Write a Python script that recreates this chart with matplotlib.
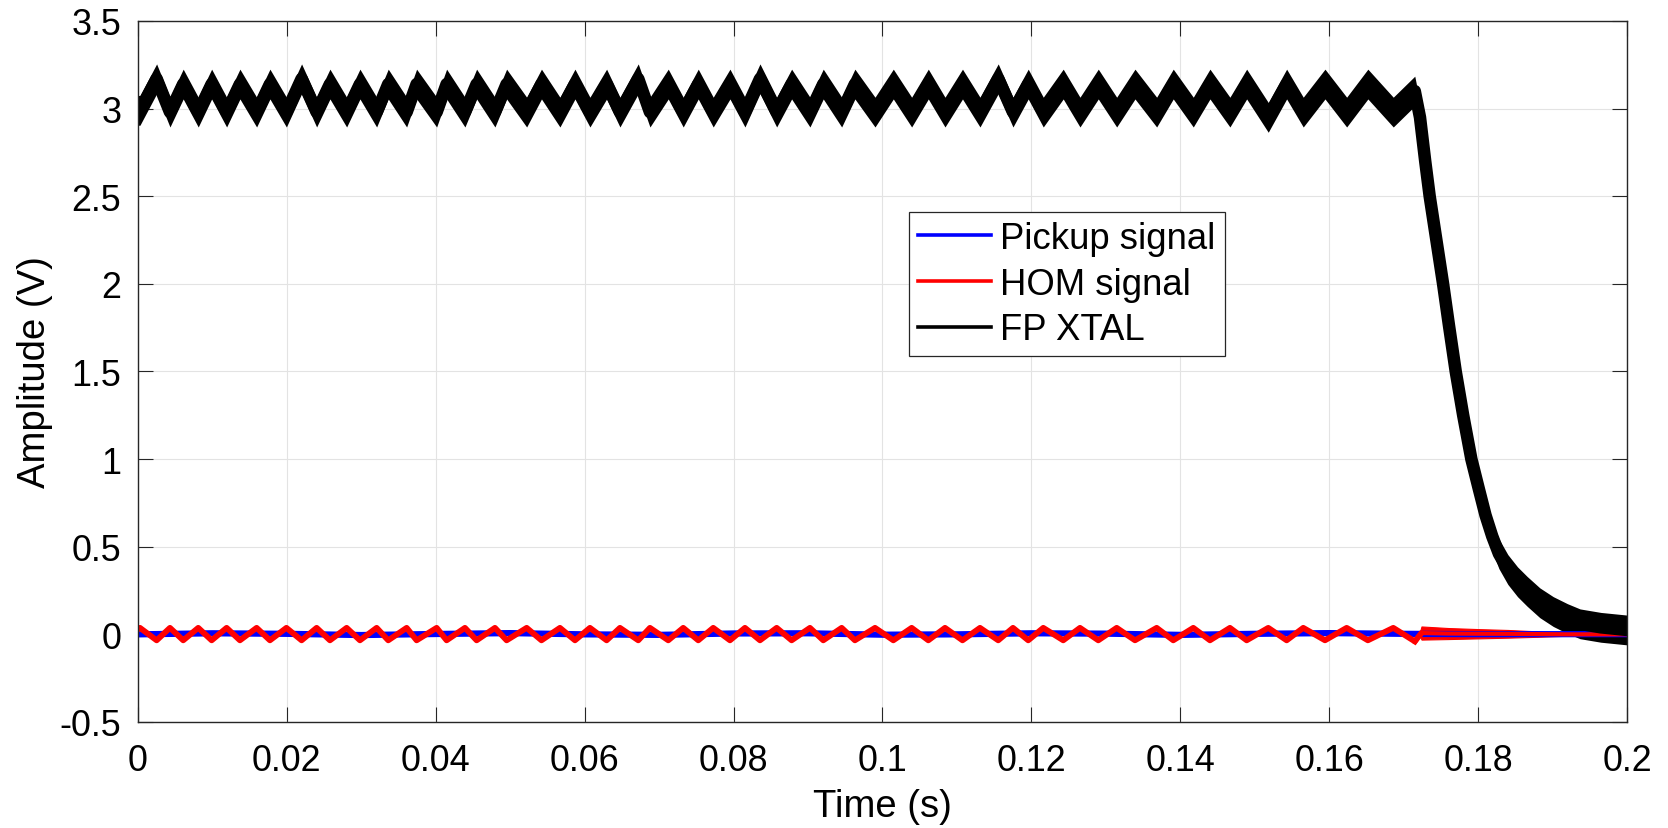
import numpy as np
import matplotlib
matplotlib.use("Agg")
import matplotlib.pyplot as plt
from matplotlib.lines import Line2D

plt.rcParams['font.family'] = ['Liberation Sans', 'DejaVu Sans']

# ---- data ----
# times (s) of the HOM crests = FP XTAL dips
t_crest = [0.00027, 0.00430, 0.00810, 0.01191, 0.01594, 0.01994, 0.02400, 0.02803,
           0.03206, 0.03609, 0.04012, 0.04392, 0.04795, 0.05221, 0.05668, 0.06071,
           0.06474, 0.06877, 0.07324, 0.07727, 0.08153, 0.08579, 0.09026, 0.09452,
           0.09900, 0.10392, 0.10840, 0.11310, 0.11753, 0.12160, 0.12653, 0.13146,
           0.13683, 0.14175, 0.14667, 0.15182, 0.15652, 0.16235, 0.16861]
# times (s) of the HOM dips = FP XTAL crests
t_dip = [0.00251, 0.00608, 0.00990, 0.01370, 0.01773, 0.02198, 0.02579, 0.02982,
         0.03362, 0.03743, 0.04146, 0.04549, 0.04952, 0.05420, 0.05870, 0.06295,
         0.06720, 0.07123, 0.07526, 0.07952, 0.08355, 0.08780, 0.09205, 0.09630,
         0.10146, 0.10616, 0.11075, 0.11555, 0.11958, 0.12428, 0.12899, 0.13392,
         0.13906, 0.14399, 0.14892, 0.15429, 0.15944, 0.16520, 0.17150]

# FP XTAL (V) at those times
fp_low = [2.99, 2.98, 2.98, 2.98, 2.98, 2.98, 2.98, 2.98, 2.98, 2.98, 2.98, 2.98, 2.98,
          2.98, 2.98, 2.98, 2.98, 2.98, 2.98, 2.98, 2.98, 2.98, 2.98, 2.98, 2.98, 2.98,
          2.98, 2.98, 2.98, 2.98, 2.98, 2.98, 2.98, 2.98, 2.98, 2.95, 2.98, 2.98, 2.98]
fp_high = [3.17, 3.14, 3.14, 3.14, 3.14, 3.17, 3.14, 3.14, 3.14, 3.14, 3.14, 3.14, 3.14,
           3.14, 3.14, 3.14, 3.17, 3.14, 3.14, 3.14, 3.17, 3.14, 3.14, 3.14, 3.14, 3.14,
           3.14, 3.17, 3.14, 3.14, 3.14, 3.14, 3.14, 3.14, 3.14, 3.14, 3.14, 3.14, 3.10]
# FP XTAL decay after the RF is switched off
t_decay = [0.1722, 0.1729, 0.1735, 0.1744, 0.1753, 0.1761, 0.1770, 0.1780, 0.1791,
           0.1801, 0.1810, 0.1819, 0.1828, 0.1840, 0.1853, 0.1866, 0.1883, 0.1901,
           0.1920, 0.1937, 0.1965, 0.2000]
fp_decay = [2.95, 2.70, 2.50, 2.25, 2.00, 1.76, 1.50, 1.25, 1.00,
            0.83, 0.68, 0.56, 0.46, 0.37, 0.30, 0.245, 0.18, 0.13,
            0.09, 0.06, 0.04, 0.025]
fp_noise = 0.085  # half height of the noise band (V)

# HOM signal (V)
hom_high = [0.037, 0.037, 0.037, 0.037, 0.037, 0.037, 0.037, 0.037, 0.037, 0.037,
            0.037, 0.037, 0.037, 0.037, 0.037, 0.037, 0.037, 0.037, 0.037, 0.037,
            0.037, 0.037, 0.037, 0.037, 0.037, 0.037, 0.037, 0.037, 0.037, 0.037,
            0.037, 0.037, 0.037, 0.037, 0.037, 0.037, 0.037, 0.037, 0.037]
hom_low = [-0.034, -0.034, -0.034, -0.034, -0.034, -0.034, -0.034, -0.034, -0.034, -0.034,
           -0.034, -0.034, -0.034, -0.034, -0.034, -0.034, -0.034, -0.034, -0.034, -0.034,
           -0.034, -0.034, -0.034, -0.034, -0.034, -0.034, -0.034, -0.034, -0.034, -0.034,
           -0.034, -0.034, -0.034, -0.034, -0.034, -0.034, -0.034, -0.034, -0.040]
# HOM ring-down envelope
t_hom_env = [0.1721, 0.1724, 0.1760, 0.1800, 0.1840, 0.1880, 0.1920, 0.1960, 0.2000]
hom_env_hi = [0.000, 0.045, 0.036, 0.030, 0.025, 0.017, 0.008, 0.005, 0.004]
hom_env_lo = [0.000, -0.030, -0.027, -0.023, -0.019, -0.014, -0.008, -0.005, -0.004]

# Pickup signal (V)
t_pickup = [0.0, 0.01, 0.02, 0.03, 0.04, 0.05, 0.06, 0.07, 0.08, 0.09, 0.10,
            0.11, 0.12, 0.13, 0.14, 0.15, 0.16, 0.17, 0.18, 0.19, 0.20]
pickup = [0.000, 0.006, 0.003, -0.004, 0.002, 0.007, 0.000, -0.003, 0.005, 0.006, -0.002,
          0.000, 0.006, 0.004, -0.003, 0.003, 0.007, 0.003, 0.001, 0.001, 0.001]

xticks = [0, 0.02, 0.04, 0.06, 0.08, 0.1, 0.12, 0.14, 0.16, 0.18, 0.2]
xtick_labels = ['0', '0.02', '0.04', '0.06', '0.08', '0.1', '0.12', '0.14', '0.16', '0.18', '0.2']
yticks = [-0.5, 0, 0.5, 1, 1.5, 2, 2.5, 3, 3.5]
ytick_labels = ['-0.5', '0', '0.5', '1', '1.5', '2', '2.5', '3', '3.5']

# ---- build the traces (crest/dip points merged in time order) ----
ring = sorted(zip(t_crest + t_dip, fp_low + fp_high))
fp_t = np.array([0.0] + [p[0] for p in ring] + t_decay)
fp_v = np.array([2.99] + [p[1] for p in ring] + fp_decay)

hom = sorted(zip(t_crest + t_dip, hom_high + hom_low))
hom_t = np.array([0.0] + [p[0] for p in hom])
hom_v = np.array([0.03] + [p[1] for p in hom])
hom_mid = (np.array(hom_env_hi) + np.array(hom_env_lo)) / 2

# ---- figure ----
fig = plt.figure(figsize=(16.68, 8.29), dpi=100)
ax = fig.add_axes([0.0827, 0.1279, 0.8927, 0.8456])

ax.plot(t_pickup, pickup, color='#0000ff', lw=4.5, solid_joinstyle='round')

ax.plot(hom_t, hom_v, color='#ff0000', lw=4.2, solid_joinstyle='round')
ax.fill_between(t_hom_env, hom_env_lo, hom_env_hi, color='#ff0000', lw=0.8, edgecolor='#ff0000')
ax.plot(t_hom_env[1:], hom_mid[1:], color='#ff0000', lw=3.0)
ax.plot([hom_t[-1], t_hom_env[1]], [hom_v[-1], hom_mid[1]], color='#ff0000', lw=4.2,
        solid_capstyle='round')

ax.fill_between(fp_t, fp_v - fp_noise, fp_v + fp_noise, color='black', lw=0)
ax.plot(fp_t, fp_v, color='black', lw=9, solid_joinstyle='round')

ax.set_xlim(0, 0.2)
ax.set_ylim(-0.5, 3.5)
ax.set_xticks(xticks)
ax.set_xticklabels(xtick_labels)
ax.set_yticks(yticks)
ax.set_yticklabels(ytick_labels)

ax.grid(True, color='#e3e3e3', lw=0.8)
ax.set_axisbelow(True)
ax.tick_params(direction='in', length=11, width=0.8, color='#262626',
               top=True, right=True, labelsize=25.8)
ax.tick_params(axis='x', pad=15)
ax.tick_params(axis='y', pad=12)
for s in ax.spines.values():
    s.set_color('#262626')
    s.set_linewidth(1.0)

ax.set_xlabel('Time (s)', fontsize=27.5, labelpad=7)
ax.set_ylabel('Amplitude (V)', fontsize=27.5, labelpad=4.5)

handles = [Line2D([], [], color='#0000ff', lw=2.6),
           Line2D([], [], color='#ff0000', lw=2.6),
           Line2D([], [], color='black', lw=2.6)]
leg = ax.legend(handles, ['Pickup signal', 'HOM signal', 'FP XTAL'],
                loc='upper left', bbox_to_anchor=(0.5178, 0.7275),
                fontsize=26.3, handlelength=2.0, handletextpad=0.25,
                borderpad=0.25, labelspacing=0.29, borderaxespad=0,
                fancybox=False, framealpha=1, edgecolor='#262626')
leg.get_frame().set_linewidth(0.9)

fig.savefig('out.png', dpi=100)
